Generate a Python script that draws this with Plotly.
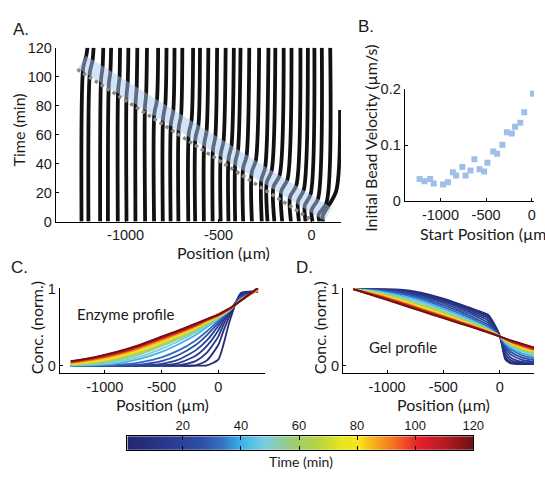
import plotly.graph_objects as go
from plotly.colors import sample_colorscale

W, H = 545, 479

# ---------------- Panel A: bead trajectories (position um, time min) ----------------
bead_x0 = [-1237, -1200, -1137, -1095, -1042, -995, -947, -895, -847, -800, -758, -716, -663, -626,
           -579, -532, -489, -447, -411, -368, -321, -268, -237, -200, -158, -111, -68, -32, 5, 42, 63]
bead_xb = [-1228, -1192, -1132, -1090, -1040, -995, -946, -896, -845, -798, -756, -714, -660, -624,
           -577, -530, -488, -446, -410, -368, -322, -270, -241, -205, -163, -116, -73, -37, 0, 38, 60]
bead_tk = [106, 103, 98, 95, 91, 87, 83, 79, 75, 72, 68, 65, 61, 58,
           54, 50, 47, 44, 41, 37, 34, 29, 27, 24, 21, 17, 14, 11, 8, 5, 4]
bead_xk = [-1212, -1178, -1124, -1082, -1033, -989, -941, -890, -832, -787, -744, -702, -646, -609,
           -565, -518, -474, -431, -396, -350, -300, -250, -215, -172, -130, -82, -42, -5, 35, 80, 132]
bead_tk2 = [114, 111, 106, 103, 99, 95, 91, 87, 83, 80, 76, 73, 69, 66,
            62, 58, 55, 52, 49, 45, 42, 37, 35, 32, 29, 25, 22, 19, 16, 13, 21]
bead_xe = [-1205, -1172, -1120, -1078, -1030, -985, -937, -885, -825, -780, -737, -695, -637, -600,
           -555, -508, -462, -418, -382, -335, -282, -232, -195, -150, -108, -60, -20, 15, 55, 100, 153]
bead_te = [120] * 30 + [77]

front_band_x = [-1235, 90]
front_band_t = [110, 5]
front_fit_x = [-1260, -10]
front_fit_t = [105, 2]

# ---------------- Panel B: initial bead velocity ----------------
B_x = [-1228, -1175, -1113, -1074, -971, -918, -864, -828, -760, -725, -671, -628, -571, -521,
       -486, -422, -379, -321, -272, -218, -182, -125, -82, 14]
B_y = [0.040, 0.036, 0.040, 0.032, 0.030, 0.034, 0.052, 0.046, 0.061, 0.046, 0.055, 0.075, 0.057,
       0.053, 0.069, 0.089, 0.085, 0.101, 0.123, 0.121, 0.133, 0.140, 0.159, 0.192]

# ---------------- Panels C, D: profiles ----------------
prof_x = [-1300, -1100, -900, -700, -500, -350, -200, -100, 0, 50, 100, 200, 350]
prof_t = [3, 6, 10, 14, 19, 25, 32, 40, 48, 56, 64, 72, 80, 88, 96, 104, 112, 120]
enzyme = [
    [0, 0, 0, 0, 0, 0, 0, 0.005, 0.08, 0.30, 0.58, 0.95, 0.97],
    [0, 0, 0, 0, 0, 0, 0.005, 0.07, 0.27, 0.47, 0.65, 0.93, 0.97],
    [0, 0, 0, 0, 0, 0.005, 0.06, 0.17, 0.38, 0.55, 0.69, 0.92, 0.97],
    [0, 0, 0, 0, 0.005, 0.035, 0.13, 0.26, 0.46, 0.60, 0.71, 0.91, 0.97],
    [0, 0, 0, 0.003, 0.025, 0.08, 0.20, 0.33, 0.52, 0.63, 0.72, 0.90, 0.97],
    [0, 0, 0.002, 0.015, 0.06, 0.14, 0.27, 0.40, 0.56, 0.645, 0.72, 0.89, 0.975],
    [0, 0.002, 0.01, 0.04, 0.11, 0.20, 0.33, 0.45, 0.585, 0.655, 0.72, 0.88, 0.98],
    [0.002, 0.008, 0.028, 0.085, 0.18, 0.28, 0.40, 0.505, 0.61, 0.665, 0.72, 0.87, 0.98],
    [0.005, 0.018, 0.048, 0.115, 0.22, 0.32, 0.435, 0.525, 0.62, 0.67, 0.725, 0.865, 0.985],
    [0.01, 0.028, 0.068, 0.145, 0.255, 0.35, 0.455, 0.54, 0.63, 0.675, 0.73, 0.86, 0.99],
    [0.015, 0.038, 0.088, 0.168, 0.278, 0.372, 0.472, 0.552, 0.635, 0.68, 0.73, 0.855, 0.99],
    [0.022, 0.05, 0.105, 0.19, 0.30, 0.39, 0.49, 0.565, 0.64, 0.685, 0.735, 0.855, 0.995],
    [0.03, 0.063, 0.12, 0.205, 0.315, 0.405, 0.50, 0.575, 0.645, 0.69, 0.735, 0.85, 1.0],
    [0.036, 0.074, 0.135, 0.22, 0.33, 0.418, 0.51, 0.583, 0.65, 0.692, 0.738, 0.85, 1.0],
    [0.042, 0.085, 0.148, 0.235, 0.345, 0.43, 0.52, 0.59, 0.655, 0.695, 0.74, 0.85, 1.005],
    [0.05, 0.095, 0.16, 0.25, 0.36, 0.44, 0.53, 0.60, 0.66, 0.70, 0.742, 0.85, 1.01],
    [0.055, 0.103, 0.17, 0.26, 0.37, 0.45, 0.54, 0.605, 0.665, 0.705, 0.745, 0.85, 1.015],
    [0.06, 0.11, 0.18, 0.27, 0.38, 0.46, 0.55, 0.61, 0.67, 0.71, 0.75, 0.85, 1.02],
]
gel = [
    [1.0, 1.0, 0.995, 0.955, 0.875, 0.80, 0.72, 0.66, 0.40, 0.08, 0.03, 0.02, 0.02],
    [1.0, 1.0, 0.99, 0.945, 0.865, 0.79, 0.705, 0.64, 0.39, 0.11, 0.045, 0.025, 0.02],
    [1.0, 0.998, 0.985, 0.935, 0.85, 0.775, 0.685, 0.615, 0.385, 0.15, 0.07, 0.035, 0.025],
    [1.0, 0.996, 0.978, 0.922, 0.835, 0.755, 0.66, 0.585, 0.38, 0.19, 0.105, 0.05, 0.03],
    [1.0, 0.993, 0.968, 0.908, 0.815, 0.73, 0.635, 0.555, 0.38, 0.225, 0.145, 0.075, 0.04],
    [1.0, 0.988, 0.955, 0.89, 0.79, 0.705, 0.605, 0.53, 0.38, 0.255, 0.18, 0.105, 0.06],
    [1.0, 0.983, 0.94, 0.868, 0.765, 0.68, 0.58, 0.505, 0.38, 0.275, 0.21, 0.135, 0.08],
    [1.0, 0.976, 0.922, 0.845, 0.74, 0.655, 0.56, 0.485, 0.385, 0.295, 0.235, 0.16, 0.10],
    [1.0, 0.968, 0.905, 0.822, 0.72, 0.635, 0.545, 0.475, 0.385, 0.31, 0.255, 0.185, 0.12],
    [1.0, 0.96, 0.89, 0.80, 0.70, 0.618, 0.532, 0.465, 0.385, 0.32, 0.27, 0.20, 0.14],
    [1.0, 0.952, 0.875, 0.785, 0.685, 0.605, 0.52, 0.46, 0.385, 0.33, 0.28, 0.215, 0.15],
    [1.0, 0.945, 0.865, 0.77, 0.672, 0.594, 0.51, 0.455, 0.385, 0.335, 0.29, 0.23, 0.16],
    [1.0, 0.937, 0.855, 0.757, 0.66, 0.585, 0.505, 0.45, 0.385, 0.34, 0.30, 0.24, 0.17],
    [1.0, 0.93, 0.845, 0.748, 0.65, 0.577, 0.50, 0.445, 0.385, 0.345, 0.305, 0.25, 0.18],
    [1.0, 0.925, 0.837, 0.74, 0.643, 0.57, 0.495, 0.442, 0.385, 0.348, 0.312, 0.26, 0.19],
    [1.0, 0.918, 0.83, 0.732, 0.636, 0.564, 0.49, 0.44, 0.385, 0.35, 0.32, 0.27, 0.20],
    [1.0, 0.911, 0.82, 0.723, 0.628, 0.557, 0.485, 0.435, 0.383, 0.353, 0.325, 0.278, 0.21],
    [1.0, 0.905, 0.81, 0.715, 0.62, 0.55, 0.48, 0.43, 0.38, 0.355, 0.33, 0.285, 0.22],
]

# colour bar values (minutes)
cbar_t = list(range(1, 121))
cbar_ticks = [20, 40, 60, 80, 100, 120]

pos_tickvals = [-1000, -500, 0]
pos_ticktext = ["-1000", "-500", "0"]

cscale = [
    [0.0, "#23266f"], [0.12, "#283a8f"], [0.22, "#2f4fa8"], [0.28, "#3573c4"],
    [0.33, "#39b3e8"], [0.40, "#7ccde0"], [0.48, "#9ccc78"], [0.55, "#b5d444"],
    [0.62, "#e9e51e"], [0.67, "#f7e51a"], [0.72, "#f7a81c"], [0.78, "#f26722"],
    [0.84, "#e7202a"], [0.92, "#b01c22"], [1.0, "#6e1212"],
]

TICKFONT = dict(family="Liberation Sans, Arial, sans-serif", size=14.5, color="#1a1a1a")
TITLEFONT = dict(family="Lato, Open Sans, sans-serif", size=16, color="#1a1a1a")


def px(x):
    return x / W


def py(y):
    return 1 - y / H


fig = go.Figure()

# Panel A
for i in range(len(bead_x0)):
    fig.add_trace(go.Scatter(
        x=[bead_x0[i], bead_xb[i], bead_xk[i], bead_xe[i]],
        y=[0, bead_tk[i], bead_tk2[i], bead_te[i]],
        mode="lines", line=dict(color="#111111", width=3.8, shape="spline", smoothing=0.8),
        xaxis="x", yaxis="y", showlegend=False, hoverinfo="skip"))
fig.add_trace(go.Scatter(x=front_band_x, y=front_band_t, mode="lines",
                         line=dict(color="rgba(170,200,240,0.5)", width=15),
                         xaxis="x", yaxis="y", showlegend=False))
fig.add_trace(go.Scatter(x=front_fit_x, y=front_fit_t, mode="lines",
                         line=dict(color="#8a8a8a", width=3.5, dash="dot"),
                         xaxis="x", yaxis="y", showlegend=False))

# Panel B
fig.add_trace(go.Scatter(x=B_x, y=B_y, mode="markers",
                         marker=dict(symbol="square", size=6, color="#9dbfea"),
                         xaxis="x2", yaxis="y2", showlegend=False))

# Panels C & D
cols = sample_colorscale(cscale, [t / 120 for t in prof_t])
for k, t in enumerate(prof_t):
    fig.add_trace(go.Scatter(x=prof_x, y=enzyme[k], mode="lines",
                             line=dict(color=cols[k], width=1.8, shape="spline", smoothing=0.6),
                             xaxis="x3", yaxis="y3", showlegend=False))
for k, t in enumerate(prof_t):
    fig.add_trace(go.Scatter(x=prof_x, y=gel[k], mode="lines",
                             line=dict(color=cols[k], width=1.8, shape="spline", smoothing=0.6),
                             xaxis="x4", yaxis="y4", showlegend=False))

# Colour bar as heatmap
fig.add_trace(go.Heatmap(x=cbar_t, y=[0], z=[cbar_t], colorscale=cscale, zmin=0, zmax=120,
                         zsmooth="best", showscale=False, xaxis="x5", yaxis="y5"))

base_axis = dict(showline=True, linecolor="black", linewidth=1, ticks="inside", ticklen=3,
                 tickcolor="black", showgrid=False, zeroline=False, tickfont=TICKFONT)

fig.update_layout(
    width=W, height=H, margin=dict(l=0, r=0, t=0, b=0),
    paper_bgcolor="white", plot_bgcolor="white",
    xaxis=dict(base_axis, domain=[px(57), px(348)], range=[-1375, 158], anchor="y",
               tickvals=pos_tickvals, ticktext=pos_ticktext),
    yaxis=dict(base_axis, domain=[py(221), py(41)], range=[0, 120], anchor="x",
               tickvals=[0, 20, 40, 60, 80, 100, 120]),
    xaxis2=dict(base_axis, domain=[px(413), 1.0], range=[-1392, 25], anchor="y2",
                tickvals=pos_tickvals, ticktext=pos_ticktext),
    yaxis2=dict(base_axis, domain=[py(200), py(84)], range=[0, 0.2], anchor="x2",
                tickvals=[0, 0.1, 0.2], ticktext=["0", "0.1", "0.2"]),
    xaxis3=dict(base_axis, domain=[px(61), px(270)], range=[-1397, 408], anchor="y3",
                tickvals=pos_tickvals, ticktext=pos_ticktext),
    yaxis3=dict(base_axis, domain=[py(378), py(290)], range=[-0.1, 1.01], anchor="x3",
                tickvals=[0, 1], ticktext=["0", "1"]),
    xaxis4=dict(base_axis, domain=[px(350), 1.0], range=[-1391, 304], anchor="y4",
                tickvals=pos_tickvals, ticktext=pos_ticktext),
    yaxis4=dict(base_axis, domain=[py(378), py(290)], range=[-0.1, 1.01], anchor="x4",
                tickvals=[0, 1], ticktext=["0", "1"]),
    xaxis5=dict(base_axis, domain=[px(130), px(483)], range=[0.9, 120], anchor="y5",
                side="top", mirror="ticks", ticklen=4, tickvals=cbar_ticks,
                tickfont=dict(TICKFONT, size=13)),
    yaxis5=dict(domain=[py(457), py(443)], range=[-0.5, 0.5], anchor="x5", showline=True,
                mirror=True, linecolor="black", linewidth=1, ticks="", showticklabels=False,
                showgrid=False, zeroline=False),
)

ann = []


def label(text, x, y, size=16, angle=0, font=None, xanchor="center"):
    f = dict(font or TITLEFONT)
    f["size"] = size
    ann.append(dict(text=text, x=px(x), y=py(y), xref="paper", yref="paper", showarrow=False,
                    textangle=angle, font=f, xanchor=xanchor, yanchor="middle"))


PANELFONT = dict(family="Liberation Sans, Arial, sans-serif", color="#1a1a1a")
label("A.", 11, 22, 17, font=PANELFONT, xanchor="left")
label("B.", 363, 19, 17, font=PANELFONT, xanchor="left")
label("C.", 9, 268, 17, font=PANELFONT, xanchor="left")
label("D.", 300, 268, 17, font=PANELFONT, xanchor="left")

label("Position (µm)", 228, 253)
label("Time (min)", 19, 126, angle=-90)
label("Start Position (µm)", 495, 233)
label("Initial Bead Velocity (µm/s)", 378, 135, angle=-90)
label("Position (µm)", 166, 410)
label("Conc. (norm.)", 38, 331, angle=-90)
label("Position (µm)", 453, 410)
label("Conc. (norm.)", 327, 331, angle=-90)
label("Time (min)", 307, 469, 14)

ann.append(dict(text="Enzyme profile", x=-1265, y=0.68, xref="x3", yref="y3", showarrow=False,
                xanchor="left", yanchor="middle", font=dict(TITLEFONT, size=15)))
ann.append(dict(text="Gel profile", x=-1174, y=0.25, xref="x4", yref="y4", showarrow=False,
                xanchor="left", yanchor="middle", font=dict(TITLEFONT, size=15)))

fig.update_layout(annotations=ann)

fig.write_html("out.html")
